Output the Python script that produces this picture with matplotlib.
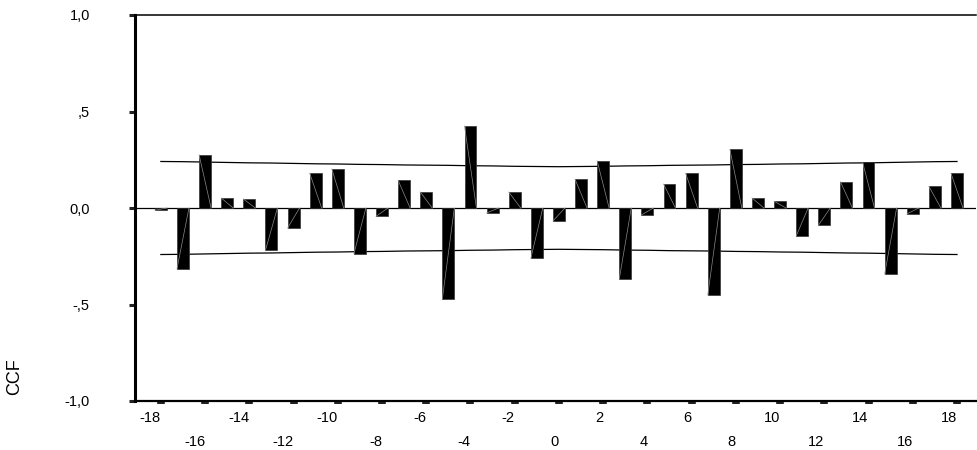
import matplotlib
matplotlib.use("Agg")
import matplotlib.pyplot as plt
import numpy as np

plt.rcParams['font.family'] = ['Liberation Sans', 'DejaVu Sans']

lags = list(range(-18, 19))
ccf = [-0.012, -0.314, 0.275, 0.052, 0.047, -0.219, -0.104, 0.180, 0.202, -0.237,
       -0.043, 0.143, 0.083, -0.470, 0.425, -0.026, 0.083, -0.261, -0.067, 0.149,
       0.244, -0.368, -0.036, 0.124, 0.180, -0.451, 0.304, 0.052, 0.035, -0.145,
       -0.090, 0.136, 0.238, -0.342, -0.031, 0.112, 0.180]
conf_upper = [0.241, 0.240, 0.238, 0.236, 0.234, 0.233, 0.231, 0.229, 0.228, 0.226,
              0.225, 0.223, 0.222, 0.221, 0.219, 0.218, 0.216, 0.215, 0.214, 0.215,
              0.216, 0.218, 0.219, 0.221, 0.222, 0.223, 0.225, 0.226, 0.228, 0.229,
              0.231, 0.233, 0.234, 0.236, 0.238, 0.240, 0.241]
conf_lower = [-v for v in conf_upper]
ytick_vals = [-1.0, -0.5, 0.0, 0.5, 1.0]
ytick_labels = ['-1,0', '-,5', '0,0', ',5', '1,0']
xtick_vals = list(range(-18, 19, 2))
xtick_labels = [str(v) for v in xtick_vals]

fig = plt.figure(figsize=(9.77, 4.5), dpi=100)
ax = fig.add_axes([135/977, 49/450, 841/977, 386/450])

w = 0.54
ax.bar(lags, ccf, width=w, color='black', edgecolor='#333333', linewidth=0.5, zorder=3)
for x, v in zip(lags, ccf):
    ax.plot([x - w/2, x + w/2], [v, 0], color='#8a8a8a', lw=0.5, zorder=4)

ax.plot(lags, conf_upper, color='black', lw=0.9, zorder=2)
ax.plot(lags, conf_lower, color='black', lw=0.9, zorder=2)
ax.axhline(0, color='black', lw=0.9, zorder=2)

ax.set_xlim(-19.17, 18.86)
ax.set_ylim(-1.0, 1.0)

ax.spines['right'].set_visible(False)
ax.spines['left'].set_linewidth(2.2)
ax.spines['bottom'].set_linewidth(1.6)
ax.spines['top'].set_linewidth(1.1)

ax.set_yticks(ytick_vals)
ax.set_yticklabels(ytick_labels, fontsize=10.5)
ax.tick_params(axis='y', length=4.5, width=2.2, color='#222222', pad=28)

ax.set_xticks(xtick_vals)
ax.set_xticklabels(xtick_labels, fontsize=10.5, ha='right')
ax.tick_params(axis='x', length=2.2, width=5.5, color='#222222')
for i, t in enumerate(ax.xaxis.get_major_ticks()):
    t.set_pad(5 if i % 2 == 0 else 22)

fig.text(15/977, 1 - 377/450, 'CCF', rotation=90, ha='center', va='center', fontsize=13)

fig.savefig('out.png', dpi=100)
